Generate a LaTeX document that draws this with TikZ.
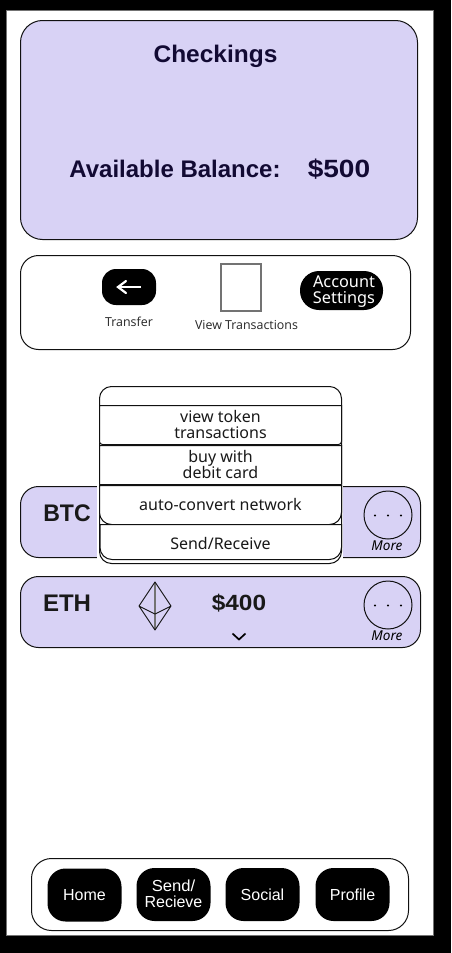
\documentclass[tikz,border=0pt]{standalone}
\usepackage{fontspec}
\usepackage{graphicx}
\usetikzlibrary{calc}
\setmainfont{Liberation Sans}
\newfontfamily\lblfont{Open Sans}
\newfontfamily\rubfont{Noto Sans}
\definecolor{lav}{HTML}{D8D2F5}
\definecolor{navy}{HTML}{120A33}
\definecolor{edge}{HTML}{111111}
\tikzset{
 panel/.style={draw=edge,line width=1pt,inner sep=0pt,anchor=center},
 card/.style={panel,fill=lav},
 blackbtn/.style={fill=black,inner sep=0pt,text=white,align=center,font=\fontsize{16}{16}\selectfont},
 btntext/.style={inner sep=0pt,text=white,align=center},
 rowbox/.style={inner sep=0pt,minimum width=242pt,align=center,font=\rubfont\fontsize{16}{16}\selectfont,text=black!90},
 rowline/.style={draw=edge,line width=1pt,fill=white},
 ttl/.style={inner sep=0pt,text=navy,font=\bfseries\fontsize{24}{24}\selectfont},
 tok/.style={inner sep=0pt,text=black!90,font=\bfseries\fontsize{24}{24}\selectfont},
 morec/.style={circle,draw=edge,line width=1pt,minimum size=48pt,inner sep=0pt},
 moret/.style={inner sep=0pt,font=\rubfont\itshape\fontsize{13.6}{13.6}\selectfont},
 small/.style={inner sep=0pt,text=black!85,font=\lblfont\fontsize{12.4}{12.4}\selectfont},
 dotm/.style={circle,fill=black,minimum size=2.4pt,inner sep=0pt},
}
% row outline: square top corners, rounded bottom corners
\newcommand{\rowshape}[5]{% x-left, top, x-right, bottom, radius
 \draw[rowline] (#1,#2) -- (#1,#4-#5) arc[start angle=180,end angle=270,radius=#5pt]
   -- (#3-#5,#4) arc[start angle=270,end angle=360,radius=#5pt] -- (#3,#2) -- cycle;}
\begin{document}
\begin{tikzpicture}[x=1pt,y=-1pt]
\useasboundingbox (0,0) rectangle (451,953);
\fill[black] (0,0) rectangle (451,953);
\filldraw[fill=white,draw=black!55,line width=.8pt] (6,10) rectangle (433.5,935.5);
% top card
\node[card,rounded corners=22pt,minimum width=397pt,minimum height=219pt] (top) at (219,130) {};
\node[ttl] (chk) at (215.5,56.5) {\scalebox{1.02}[1]{Checkings}};
\node[ttl] (avail) at (175,169) {Available Balance:};
\node[ttl] (bal) at (339,169) {\scalebox{1.17}[1.04]{\$500}};
% action panel
\node[panel,fill=white,rounded corners=18pt,minimum width=390pt,minimum height=94pt] (act) at (215.5,302.5) {};
\node[blackbtn,rounded corners=14pt,minimum width=54pt,minimum height=36pt] (tr) at (129,287) {};
\coordinate (arL) at (118,287);
\coordinate (arR) at (141,287);
\draw[white,line width=2.2pt] (arR) -- (arL);
\draw[white,line width=2.2pt,line cap=round,line join=miter] ($(arL)+(8,-6)$) -- (arL) -- ($(arL)+(8,6)$);
\node[small] (trl) at (129,321.5) {Transfer};
\node[draw=black!55,line width=2pt,fill=white,minimum width=40pt,minimum height=47pt,inner sep=0pt] (vt) at (241,287.5) {};
\node[small] (vtl) at (246.5,325) {View Transactions};
\node[blackbtn,rounded corners=19pt,minimum width=83pt,minimum height=39pt] (acc) at (341.5,290.5) {};
\node[btntext,font=\rubfont\fontsize{16.3}{16}\selectfont] (acct) at (344,291.3) {Account\\Settings};
% BTC card
\node[card,rounded corners=18pt,minimum width=400pt,minimum height=71pt] (btc) at (220.5,522) {};
\node[tok] (btct) at (67,513) {\scalebox{.96}[1]{BTC}};
\node[morec] (btcm) at (388,515) {};
\node[dotm] at (375,515.5) {}; \node[dotm] at (388,515.5) {}; \node[dotm] at (401,515.5) {};
\node[moret] (btcl) at (387,545.5) {More};
% ETH card
\node[card,rounded corners=18pt,minimum width=400pt,minimum height=71pt] (eth) at (220.5,612) {};
\node[tok] (etht) at (67,603) {ETH};
\node[morec] (ethm) at (388,605) {};
\node[dotm] at (375,605.5) {}; \node[dotm] at (388,605.5) {}; \node[dotm] at (401,605.5) {};
\node[moret] (ethl) at (387,635.5) {More};
\node[inner sep=0pt,font=\bfseries\fontsize{22}{22}\selectfont,text=black!90] (ethv) at (239,603) {\scalebox{1.11}[1]{\$400}};
% ethereum logo
\coordinate (eT) at (155,582);
\coordinate (eR) at (171,606);
\coordinate (eB) at (155,630);
\coordinate (eL) at (139,606);
\coordinate (eM) at (155,614);
\draw[black!55,line width=1.6pt] (eT) -- (eB);
\draw[edge,line width=.9pt,line join=round] (eT) -- (eR) -- (eB) -- (eL) -- cycle (eL) -- (eM) -- (eR);
% chevron
\coordinate (chL) at (232.5,633.5);
\coordinate (chM) at (239,639.5);
\coordinate (chR) at (245.5,633.5);
\draw[black,line width=1.7pt] (chL) -- (chM) -- (chR);
% dropdown
\fill[white] (97,484) rectangle (342.5,566);
\node[panel,fill=white,rounded corners=12pt,minimum width=242pt,minimum height=177pt] (dd) at (220.5,475) {};
\rowshape{99.5}{405.5}{341.5}{444.5}{3}
\rowshape{99.5}{445.5}{341.5}{484.5}{0.5}
\rowshape{99.5}{485.5}{341.5}{524.5}{12}
\rowshape{100}{524.5}{341.5}{559.5}{12}
\node[rowbox] (r1) at (220.5,424.5) {view token\\transactions};
\node[rowbox] (r2) at (220.5,464.5) {buy with\\debit card};
\node[rowbox] (r3) at (220.5,504) {auto-convert network};
\node[rowbox] (r4) at (220.5,543) {Send/Receive};
% bottom nav
\node[panel,fill=white,rounded corners=20pt,minimum width=377pt,minimum height=72pt] (nav) at (220,894.5) {};
\node[blackbtn,rounded corners=18pt,minimum width=74pt,minimum height=53pt] (home) at (84.5,895) {Home};
\node[blackbtn,rounded corners=18pt,minimum width=74pt,minimum height=53pt] (send) at (173.5,894.5) {};
\node[btntext,font=\fontsize{16}{16}\selectfont] (sendt) at (173.5,893.5) {\scalebox{1.04}[1]{Send/}\\Recieve};
\node[blackbtn,rounded corners=18pt,minimum width=74pt,minimum height=53pt] (soc) at (262.5,894.5) {Social};
\node[blackbtn,rounded corners=18pt,minimum width=74pt,minimum height=53pt] (prof) at (352.5,894.5) {Profile};
\end{tikzpicture}
\end{document}
